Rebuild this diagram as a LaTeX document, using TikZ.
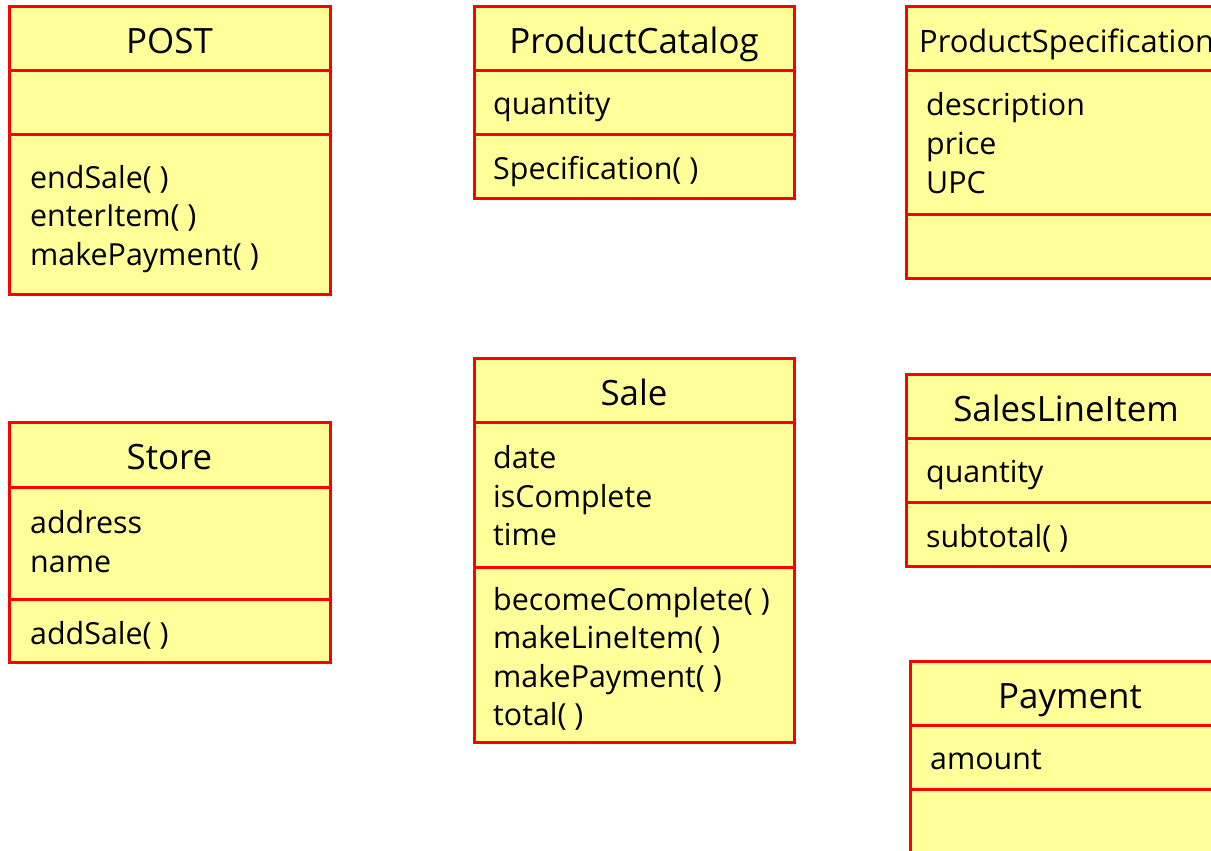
\documentclass[tikz,border=0pt]{standalone}
\usepackage{fontspec}
\setmainfont{Open Sans}
\definecolor{boxfill}{HTML}{FFFF99}
\definecolor{boxline}{HTML}{FF0000}
\begin{document}
\begin{tikzpicture}[x=1bp,y=-1bp,
  classbox/.style={draw=boxline, fill=boxfill, line width=3bp, rectangle, inner sep=0pt, outer sep=0pt, anchor=north west},
  divider/.style={draw=boxline, line width=3bp},
  ctitle/.style={anchor=base, inner sep=0pt, font=\fontsize{35}{42}\selectfont},
  attr/.style={anchor=base west, inner sep=0pt, font=\fontsize{30.5}{38.5}\selectfont}]
\useasboundingbox (0,0) rectangle (1211,851);
\clip (0,0) rectangle (1211,851);

% POST
\node[classbox, minimum width=321bp, minimum height=288bp] (post) at (9,6) {};
\draw[divider] (9,70) -- (330,70);
\draw[divider] (9,134) -- (330,134);
\node[ctitle] (postT) at (169.5,53) {POST};
\node[attr] (postM1) at (30,188) {endSale( )};
\node[attr] (postM2) at (30,226.5) {enterItem( )};
\node[attr] (postM3) at (30,265) {makePayment( )};

% ProductCatalog
\node[classbox, minimum width=320bp, minimum height=192bp] (cat) at (474,6) {};
\draw[divider] (474,70) -- (794,70);
\draw[divider] (474,134) -- (794,134);
\node[ctitle] (catT) at (634,53) {ProductCatalog};
\node[attr] (catA1) at (493,114) {quantity};
\node[attr] (catM1) at (493,179) {Specification( )};

% ProductSpecification
\node[classbox, minimum width=324bp, minimum height=272bp] (spec) at (906,6) {};
\draw[divider] (906,70) -- (1230,70);
\draw[divider] (906,214) -- (1230,214);
\node[attr, font=\fontsize{31}{38.5}\selectfont] (specT) at (919,52) {ProductSpecification};
\node[attr] (specA1) at (926,115) {description};
\node[attr] (specA2) at (926,154) {price};
\node[attr] (specA3) at (926,193) {UPC};

% Store
\node[classbox, minimum width=321bp, minimum height=240bp] (store) at (9,422) {};
\draw[divider] (9,487) -- (330,487);
\draw[divider] (9,599) -- (330,599);
\node[ctitle] (storeT) at (169.5,469) {Store};
\node[attr] (storeA1) at (30,533) {address};
\node[attr] (storeA2) at (30,572) {name};
\node[attr] (storeM1) at (30,644) {addSale( )};

% Sale
\node[classbox, minimum width=320bp, minimum height=384bp] (sale) at (474,358) {};
\draw[divider] (474,422) -- (794,422);
\draw[divider] (474,567) -- (794,567);
\node[ctitle] (saleT) at (634,405) {Sale};
\node[attr] (saleA1) at (493,468) {date};
\node[attr] (saleA2) at (493,507) {isComplete};
\node[attr] (saleA3) at (493,545) {time};
\node[attr] (saleM1) at (493,610) {becomeComplete( )};
\node[attr] (saleM2) at (493,648.5) {makeLineItem( )};
\node[attr] (saleM3) at (493,687) {makePayment( )};
\node[attr] (saleM4) at (493,725) {total( )};

% SalesLineItem
\node[classbox, minimum width=320bp, minimum height=192bp] (sli) at (906,374) {};
\draw[divider] (906,438) -- (1226,438);
\draw[divider] (906,502) -- (1226,502);
\node[ctitle] (sliT) at (1066,421) {SalesLineItem};
\node[attr] (sliA1) at (926,482) {quantity};
\node[attr] (sliM1) at (926,547) {subtotal( )};

% Payment
\node[classbox, minimum width=320bp, minimum height=260bp] (pay) at (910,661) {};
\draw[divider] (910,725) -- (1230,725);
\draw[divider] (910,789) -- (1230,789);
\node[ctitle] (payT) at (1070,708) {Payment};
\node[attr] (payA1) at (930,769) {amount};
\end{tikzpicture}
\end{document}
